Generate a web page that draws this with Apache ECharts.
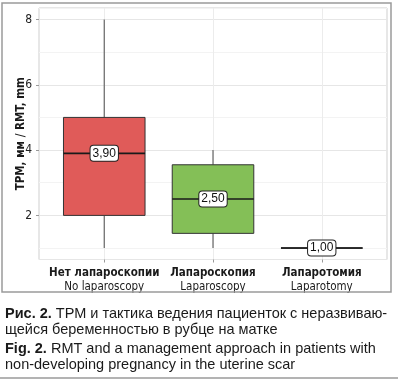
<!DOCTYPE html>
<html><head><meta charset="utf-8">
<script src="https://cdn.jsdelivr.net/npm/echarts@6/dist/echarts.min.js"></script>
<style>html,body{margin:0;padding:0;background:#fff}#c{width:398px;height:382px}</style>
</head><body><div id="c"></div>
<script>
const categoriesRu = ['Нет лапароскопии', 'Лапароскопия', 'Лапаротомия'];
const categoriesEn = ['No laparoscopy', 'Laparoscopy', 'Laparotomy'];
const mins    = [1.0, 1.0, 1.0];
const q1s     = [2.0, 1.45, 1.0];
const medians = [3.9, 2.5, 1.0];
const q3s     = [5.0, 3.55, 1.0];
const maxs    = [8.0, 4.0, 1.0];
const yTicks  = [2, 4, 6, 8];
const boxColors = ['#e05b59', '#84bf57', '#7aa6d6'];

const cats = categoriesRu.map((r, i) => r + '|' + categoriesEn[i]);
const boxData = cats.map((c, i) => [i, mins[i], q1s[i], medians[i], q3s[i], maxs[i]]);

const YMIN = 0.65, YMAX = 8.35;
const chart = echarts.init(document.getElementById('c'), null, {renderer: 'canvas'});
const narrow = '"DejaVu Sans Condensed", "Liberation Sans Narrow", sans-serif';
const sans = '"Liberation Sans", Arial, sans-serif';

chart.setOption({
  animation: false,
  backgroundColor: '#fff',
  grid: [
    {left: 39, top: 8, width: 348, height: 251.5, show: true, backgroundColor: '#fff', borderColor: '#cfcfcf', borderWidth: 1, z: 0},
    {left: 104.25, top: 8, width: 217.5, height: 251.5, show: false}
  ],
  xAxis: [
    {gridIndex: 0, type: 'value', min: 0, max: 1, show: false},
    {gridIndex: 1, type: 'category', boundaryGap: false, data: cats,
     axisLine: {show: false},
     axisTick: {show: true, length: 3, lineStyle: {color: '#999'}},
     splitLine: {show: true, lineStyle: {color: '#ececec', width: 1}},
     axisLabel: {margin: 7, interval: 0, lineHeight: 14,
       formatter: v => { const p = v.split('|'); return '{b|' + p[0] + '}\n{n|' + p[1] + '}'; },
       rich: {
         b: {fontFamily: narrow, fontWeight: 'bold', fontSize: 11.5, color: '#1a1a1a', lineHeight: 14},
         n: {fontFamily: narrow, fontSize: 11.5, color: '#1a1a1a', lineHeight: 14}
       }}
    }
  ],
  yAxis: [
    {gridIndex: 0, type: 'value', min: YMIN, max: YMAX, minInterval: 1, maxInterval: 1, position: 'left',
     axisLine: {show: false}, axisTick: {show: false}, axisLabel: {show: false},
     splitLine: {show: true, lineStyle: {color: ['#e6e6e6', '#f3f3f3'], width: 1}}},
    {gridIndex: 0, type: 'value', min: YMIN, max: YMAX, minInterval: 2, maxInterval: 2, position: 'left',
     axisLine: {show: false},
     axisTick: {show: true, length: 3, lineStyle: {color: '#999'}},
     splitLine: {show: false},
     axisLabel: {margin: 7, fontSize: 12, color: '#222', fontFamily: narrow,
       showMinLabel: false, showMaxLabel: false,
       formatter: v => yTicks.indexOf(v) >= 0 ? String(v) : ''},
     name: 'ТРМ, мм / RMT, mm', nameLocation: 'middle', nameGap: 12, nameRotate: 90, nameMoveOverlap: false,
     nameTextStyle: {fontFamily: narrow, fontWeight: 'bold', fontSize: 11.5, color: '#1a1a1a'}},
    {gridIndex: 1, type: 'value', min: YMIN, max: YMAX, show: false, splitLine: {show: false}}
  ],
  series: [
    {type: 'custom', xAxisIndex: 1, yAxisIndex: 2, data: boxData, silent: true, z: 5,
     renderItem: function (params, api) {
       const i = api.value(0);
       const w = api.size([1, 0])[0] * 0.75;
       const pMin = api.coord([i, api.value(1)]);
       const pQ1 = api.coord([i, api.value(2)]);
       const pMed = api.coord([i, api.value(3)]);
       const pQ3 = api.coord([i, api.value(4)]);
       const pMax = api.coord([i, api.value(5)]);
       const x = pMed[0];
       return {type: 'group', children: [
         {type: 'line', shape: {x1: x, y1: pMax[1], x2: x, y2: pQ3[1]}, style: {stroke: '#666', lineWidth: 1.2}},
         {type: 'line', shape: {x1: x, y1: pQ1[1], x2: x, y2: pMin[1]}, style: {stroke: '#666', lineWidth: 1.2}},
         {type: 'rect', shape: {x: x - w / 2, y: pQ3[1], width: w, height: pQ1[1] - pQ3[1]},
          style: {fill: boxColors[params.dataIndex], stroke: '#333', lineWidth: 1}},
         {type: 'line', shape: {x1: x - w / 2, y1: pMed[1], x2: x + w / 2, y2: pMed[1]}, style: {stroke: '#1a1a1a', lineWidth: 1.6}},
         {type: 'text', x: x, y: pMed[1], z2: 10, style: {
           text: api.value(3).toFixed(2).replace('.', ','),
           align: 'center', verticalAlign: 'middle',
           font: '12px ' + sans, fill: '#111',
           backgroundColor: '#fff', borderColor: '#222', borderWidth: 1, borderRadius: 3, padding: [2, 2, 1, 2]}}
       ]};
     }}
  ],
  graphic: [
    {type: 'rect', shape: {x: 2, y: 3, width: 389, height: 289}, style: {fill: 'none', stroke: '#9a9a9a', lineWidth: 1.5}, z: 100},
    {type: 'line', shape: {x1: 0, y1: 378, x2: 398, y2: 378}, style: {stroke: '#9a9a9a', lineWidth: 1.5}, z: 100},
    {type: 'text', left: 5, top: 306, z: 100, style: {
      text: '{b|Рис. 2.} ТРМ и тактика ведения пациенток с неразвиваю-\nщейся беременностью в рубце на матке',
      font: '14.5px ' + sans, fill: '#1a1a1a', lineHeight: 16,
      rich: {b: {fontWeight: 'bold', fontSize: 14.5, fontFamily: sans, fill: '#1a1a1a'}}}},
    {type: 'text', left: 5, top: 341, z: 100, style: {
      text: '{b|Fig. 2.} RMT and a management approach in patients with\nnon-developing pregnancy in the uterine scar',
      font: '14.5px ' + sans, fill: '#1a1a1a', lineHeight: 16,
      rich: {b: {fontWeight: 'bold', fontSize: 14.5, fontFamily: sans, fill: '#1a1a1a'}}}}
  ]
});
</script></body></html>
